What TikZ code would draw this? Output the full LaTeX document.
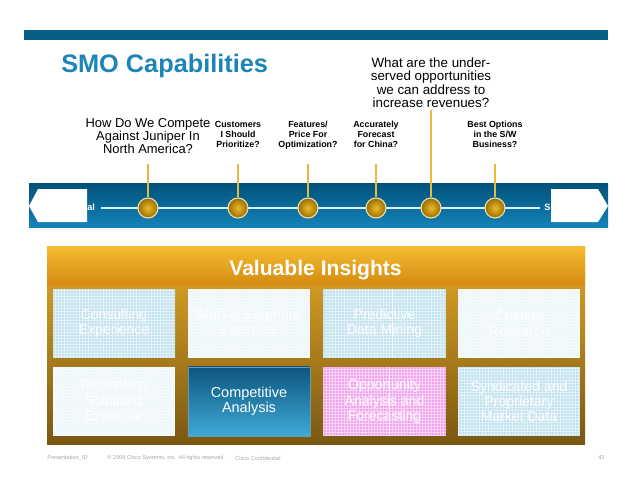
\documentclass[tikz,border=0pt]{standalone}
\usepackage{fontspec}
\setmainfont{Liberation Sans}
\usepackage{tikz}
\usetikzlibrary{calc}
\definecolor{smoblue}{RGB}{27,133,184}
\definecolor{topbar}{RGB}{8,94,133}
\definecolor{banddark}{RGB}{0,82,122}
\definecolor{bandlight}{RGB}{20,130,184}
\definecolor{stemgold}{RGB}{228,186,66}
\definecolor{balldark}{RGB}{150,108,8}
\definecolor{balllight}{RGB}{238,186,36}
\definecolor{ballrim}{RGB}{236,222,168}
\definecolor{paneltop}{RGB}{243,189,50}
\definecolor{panelmid}{RGB}{214,138,16}
\definecolor{panelbody}{RGB}{228,170,40}
\definecolor{panelbot}{RGB}{122,88,18}
\definecolor{tileblue}{RGB}{192,225,238}
\definecolor{tilewhite}{RGB}{236,246,251}
\definecolor{tilepink}{RGB}{240,162,236}
\definecolor{compdark}{RGB}{12,86,128}
\definecolor{complight}{RGB}{62,170,214}

\tikzset{
  ball/.style={circle, minimum size=0.5cm, inner sep=0pt, draw=ballrim, line width=0.8pt,
    inner color=balllight, outer color=balldark},
  stem/.style={stemgold, line width=1.4pt},
  question/.style={align=center, anchor=north, inner sep=0pt,
    font=\fontsize{6.3}{7.1}\selectfont\bfseries},
  tile/.style={minimum width=3.05cm, minimum height=1.725cm, inner sep=0pt, align=center,
    text=white, text opacity=.9, font=\fontsize{10}{11}\selectfont,
    path picture={\draw[white, opacity=.55, line width=.25pt]
      (path picture bounding box.south west) grid[step=0.075cm]
      (path picture bounding box.north east);}},
  footer/.style={anchor=west, inner sep=0pt, text=black!35, font=\fontsize{4}{5}\selectfont}
}

\begin{document}
\begin{tikzpicture}[x=0.025cm, y=-0.025cm]
  \useasboundingbox (0,0) rectangle (638,493);

  % Header bar and title
  \fill[topbar] (24,30) rectangle (608,40);
  \node[anchor=base west, inner sep=0pt, text=smoblue,
    font=\fontsize{18}{20}\selectfont\bfseries] (title) at (61,72) {SMO Capabilities};

  % Timeline band
  \shade[top color=banddark, bottom color=bandlight] (29,183) rectangle (608,227);
  \coordinate (lineL) at (101,208);
  \coordinate (lineR) at (540,208);
  \draw[white!85!cyan, line width=1.4pt] (lineL) -- (lineR);

  % End arrows of the band
  \fill[white] (29,206) -- (38,189) -- (87,189) -- (87,222) -- (38,222) -- cycle;
  \fill[white] (551,189) -- (598,189) -- (608,206) -- (598,222) -- (551,222) -- cycle;
  \node[anchor=base west, inner sep=0pt, text=white,
    font=\fontsize{6.5}{7}\selectfont\bfseries] (tacticalTxt) at (87,210) {al};
  \node[anchor=base west, inner sep=0pt, text=white,
    font=\fontsize{6.5}{7}\selectfont\bfseries] (strategicTxt) at (544,210) {S};

  % Questions
  \node[question, font=\fontsize{9.2}{9.2}\selectfont] (q1) at (148,118)
    {How Do We Compete\\Against Juniper In\\North America?};
  \node[question] (q2) at (238,121) {Customers\\I Should\\Prioritize?};
  \node[question] (q3) at (308,121) {Features/\\Price For\\Optimization?};
  \node[question] (q4) at (376,121) {Accurately\\Forecast\\for China?};
  \node[question] (q6) at (495,121) {Best Options\\in the S/W\\Business?};
  \node[align=center, anchor=north, inner sep=1.5pt,
    font=\fontsize{9.5}{9.6}\selectfont] (under) at (431,55)
    {What are the under-\\served opportunities\\we can address to\\increase revenues?};

  % Milestones
  \node[ball] (c1) at (148,208) {};
  \node[ball] (c2) at (238,208) {};
  \node[ball] (c3) at (308,208) {};
  \node[ball] (c4) at (376,208) {};
  \node[ball] (c5) at (431,208) {};
  \node[ball] (c6) at (495,208) {};
  \foreach \i/\x in {1/148, 2/238, 3/308, 4/376, 6/495} {
    \coordinate (t\i) at (\x,164);
    \draw[stem] (c\i.north) -- (t\i);
  }
  \draw[stem] (c5.north) -- (under.south);

  % Valuable Insights panel
  \shade[top color=panelbody, bottom color=panelbot] (47,246) rectangle (585,444);
  \shade[top color=paneltop, bottom color=panelmid] (47,246) rectangle (585,285);
  \node[anchor=base, inner sep=0pt, text=white,
    font=\fontsize{15}{16}\selectfont\bfseries] (insights) at (315.5,275) {Valuable Insights};

  % Tiles
  \node[tile, fill=tileblue] (consult) at (114,323.5) {Consulting\\Experience};
  \node[tile, fill=tilewhite] (market) at (249,323.5) {Market Segment\\Expertise};
  \node[tile, fill=tileblue] (predict) at (384.5,323.5) {Predictive\\Data Mining};
  \node[tile, fill=tilewhite] (custom) at (519,323.5) {Custom\\Research};
  \node[tile, fill=tilewhite] (techno) at (114,401.5) {Technology\\Solutions\\Expertise};
  \node[minimum width=3.05cm, minimum height=1.725cm, inner sep=0pt, align=center,
    top color=compdark, bottom color=complight, draw=compdark!60, text=white,
    font=\fontsize{10.3}{11}\selectfont] (compet) at (249,401.5) {Competitive\\Analysis};
  \node[tile, fill=tilepink] (oppty) at (384.5,401.5) {Opportunity\\Analysis and\\Forecasting};
  \node[tile, fill=tileblue] (syndic) at (519,401.5) {Syndicated and\\Proprietary\\Market Data};
  \draw[white, line width=.4pt] (392,289) -- (392,358);
  \draw[white, line width=.4pt] (389,367) -- (389,436);

  % Footer
  \node[footer] (presid) at (47,458) {Presentation\_ID};
  \node[footer] (copyr) at (107,458) {© 2008 Cisco Systems, Inc. All rights reserved.};
  \node[footer] (confid) at (235,458) {Cisco Confidential};
  \node[footer] (pagenum) at (598,458) {43};
\end{tikzpicture}
\end{document}
